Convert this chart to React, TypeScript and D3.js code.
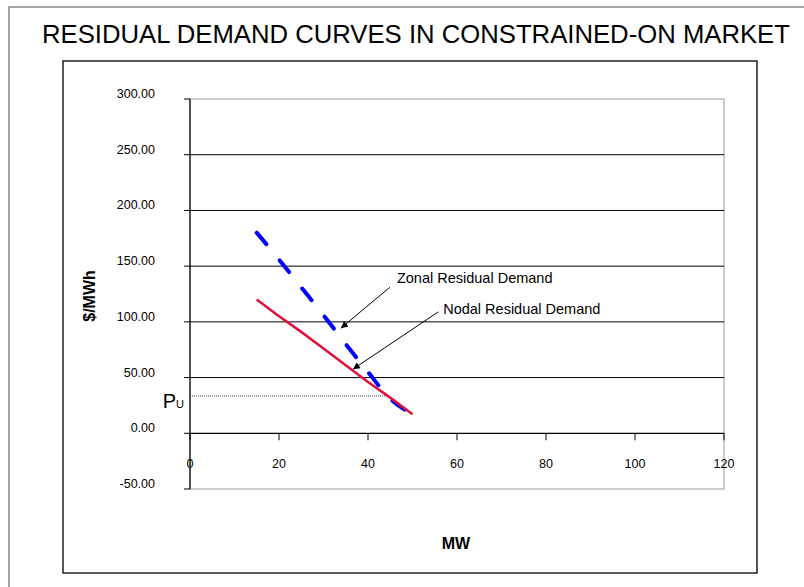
import React from "react";
import * as d3 from "d3";

const TITLE = "RESIDUAL DEMAND CURVES IN CONSTRAINED-ON MARKET";
const X_TICKS = [0, 20, 40, 60, 80, 100, 120];
const Y_TICKS = [-50, 0, 50, 100, 150, 200, 250, 300];
const ZONAL_MW = [15, 20, 25, 30, 35, 40, 45, 50];
const ZONAL_PRICE = [180, 156, 131, 106, 80, 55, 31, 17];
const NODAL_MW = [15, 20, 25, 30, 35, 40, 45, 50];
const NODAL_PRICE = [120, 105, 91, 76, 61, 46, 32, 17];
const PU_PRICE = 33.5;
const PU_END_MW = 44.2;
const ZONAL_LABEL = "Zonal Residual Demand";
const NODAL_LABEL = "Nodal Residual Demand";
// annotation anchors in data units: [textX, textY, arrowStartX, arrowStartY, tipX, tipY]
const ZONAL_ANN = [46.5, 134.5, 44.9, 131, 33.9, 94.3];
const NODAL_ANN = [56.9, 107.5, 55.8, 109, 36.6, 57.5];

export default function App() {
  const W = 804, H = 587;
  const L = 190, R = 724, T = 99, B = 489;
  const x = d3.scaleLinear().domain([0, 120]).range([L, R]);
  const y = d3.scaleLinear().domain([-50, 300]).range([B, T]);
  const font = "'Liberation Sans', Arial, sans-serif";

  const zonal = ZONAL_MW.map((m, i) => [m, ZONAL_PRICE[i]] as [number, number]);
  const nodal = NODAL_MW.map((m, i) => [m, NODAL_PRICE[i]] as [number, number]);
  const smooth = d3.line<[number, number]>().x(d => x(d[0])).y(d => y(d[1])).curve(d3.curveMonotoneX);
  const straight = d3.line<[number, number]>().x(d => x(d[0])).y(d => y(d[1]));

  const ann = (a: number[], label: string, key: string) => (
    <g key={key}>
      <line x1={x(a[2])} y1={y(a[3])} x2={x(a[4])} y2={y(a[5])} stroke="#000" strokeWidth={1} markerEnd="url(#arrow)" />
      <text x={x(a[0])} y={y(a[1])} fontSize={14.5} fontFamily={font} fill="#000">{label}</text>
    </g>
  );

  return (
    <svg width={W} height={H} style={{ position: "absolute", left: 0, top: 0, background: "#fff" }}>
      <defs>
        <marker id="arrow" viewBox="0 0 10 10" refX={10} refY={5} markerWidth={9} markerHeight={7} markerUnits="userSpaceOnUse" orient="auto">
          <path d="M0,0 L10,5 L0,10 z" fill="#000" />
        </marker>
      </defs>
      <rect x={0} y={0} width={W} height={H} fill="#fff" />
      <rect x={9} y={7} width={W + 20} height={H + 20} fill="none" stroke="#888" strokeWidth={1.5} />
      <text x={416} y={43.3} textAnchor="middle" fontSize={25.7} fontFamily={font} fill="#000">{TITLE}</text>
      <rect x={63} y={61} width={694} height={512} fill="#fff" stroke="#000" strokeWidth={1.3} />

      {/* plot frame */}
      <rect x={L} y={T} width={R - L} height={B - T} fill="#fff" stroke="#999" strokeWidth={1} />
      {Y_TICKS.filter(v => v > -50 && v < 300 && v !== 0).map(v => (
        <line key={"g" + v} x1={L} x2={R} y1={y(v)} y2={y(v)} stroke="#000" strokeWidth={1} />
      ))}
      {/* y axis */}
      <line x1={L} x2={L} y1={T} y2={B} stroke="#000" strokeWidth={1.2} />
      {Y_TICKS.map(v => (
        <g key={"yt" + v}>
          <line x1={L - 6} x2={L} y1={y(v)} y2={y(v)} stroke="#000" strokeWidth={1} />
          <text x={155} y={y(v) - 1} textAnchor="end" fontSize={12.5} fontFamily={font} fill="#000">{v.toFixed(2)}</text>
        </g>
      ))}
      {/* x axis */}
      <line x1={L} x2={R} y1={y(0)} y2={y(0)} stroke="#000" strokeWidth={1.2} />
      {X_TICKS.map(v => (
        <g key={"xt" + v}>
          <line x1={x(v)} x2={x(v)} y1={y(0)} y2={y(0) + 7} stroke="#000" strokeWidth={1} />
          <text x={x(v)} y={468} textAnchor="middle" fontSize={12.5} fontFamily={font} fill="#000">{v}</text>
        </g>
      ))}

      {/* P_U */}
      <line x1={L} x2={x(PU_END_MW)} y1={y(PU_PRICE)} y2={y(PU_PRICE)} stroke="#000" strokeWidth={0.8} strokeDasharray="1,1" />
      <text x={162.7} y={408} fontSize={20} fontFamily={font} fill="#000">P<tspan fontSize={11}>U</tspan></text>

      {/* series */}
      <path d={smooth(zonal) || ""} fill="none" stroke="#0000FF" strokeWidth={4} strokeLinecap="round" strokeDasharray="15,21" />
      <path d={straight(nodal) || ""} fill="none" stroke="#E0103C" strokeWidth={2.5} />

      {ann(ZONAL_ANN, ZONAL_LABEL, "za")}
      {ann(NODAL_ANN, NODAL_LABEL, "na")}

      {/* axis titles */}
      <text transform="translate(95,296) rotate(-90)" textAnchor="middle" fontSize={16} fontWeight="bold" fontFamily={font} fill="#000">$/MWh</text>
      <text x={456} y={549} textAnchor="middle" fontSize={16} fontWeight="bold" fontFamily={font} fill="#000">MW</text>
    </svg>
  );
}
